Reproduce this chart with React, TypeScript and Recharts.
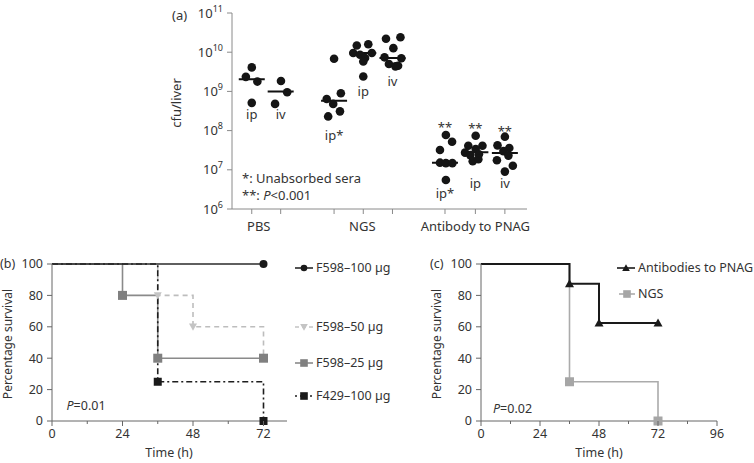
import React from 'react';
import { ScatterChart, Scatter, LineChart, Line, XAxis, YAxis } from 'recharts';

const FONT = '"Noto Sans", "Open Sans", sans-serif';

// ---------- panel (a): cfu/liver, log scale ----------
const groupX = [0.67, 1.65, 3.46, 4.45, 5.44, 7.22, 8.25, 9.25];
const groupTag = ['ip', 'iv', 'ip*', 'ip', 'iv', 'ip*', 'ip', 'iv'];
const groupTagY = [2.7e8, 2.7e8, 7.5e7, 1.0e9, 1.85e9, 2.6e6, 4.6e6, 4.5e6];
const medians = [2.05e9, 9.9e8, 5.8e8, 9.5e9, 7.1e9, 1.52e7, 2.8e7, 2.7e7];
const starGroups = [5, 6, 7];
const starY = [1.21e8, 1.16e8, 1.0e8];
const yTicksA = [1e6, 1e7, 1e8, 1e9, 1e10, 1e11];

// dot x (jittered within the group) and cfu values
const pbsIpX = [0.67, 0.47, 0.86, 0.67];
const pbsIpY = [4.1e9, 2.35e9, 1.78e9, 5.1e8];
const pbsIvX = [1.66, 1.87, 1.46];
const pbsIvY = [1.85e9, 9.5e8, 4.8e8];
const ngsIpStarX = [3.46, 3.21, 3.43, 3.69, 3.26, 3.66];
const ngsIpStarY = [6.8e9, 6.4e8, 4.8e8, 9.0e8, 2.3e8, 3.1e8];
const ngsIpX = [4.23, 4.62, 4.11, 4.34, 4.51, 4.74, 4.45, 4.45];
const ngsIpY = [1.48e10, 1.6e10, 9.5e9, 8.6e9, 7.1e9, 9.5e9, 5.8e9, 2.4e9];
const ngsIvX = [5.22, 5.71, 5.47, 5.17, 5.74, 5.32, 5.54, 5.63];
const ngsIvY = [2.2e10, 2.4e10, 1.27e10, 7.4e9, 7.0e9, 5.0e9, 4.35e9, 4.5e9];
const abIpStarX = [7.25, 7.46, 7.05, 7.05, 7.25, 7.47, 7.25];
const abIpStarY = [7.7e7, 5.2e7, 3.2e7, 1.52e7, 1.48e7, 1.48e7, 5.5e6];
const abIpX = [8.26, 8.01, 8.49, 8.26, 7.9, 8.08, 8.37, 8.16, 8.35];
const abIpY = [7.4e7, 4.1e7, 4.1e7, 3.4e7, 2.74e7, 2.37e7, 2.5e7, 1.66e7, 1.87e7];
const abIvX = [9.25, 9.0, 9.4, 9.2, 9.37, 8.98, 9.52, 9.25];
const abIvY = [7.0e7, 4.2e7, 3.6e7, 3.0e7, 2.3e7, 1.75e7, 1.27e7, 9.0e6];

const dotXs = [pbsIpX, pbsIvX, ngsIpStarX, ngsIpX, ngsIvX, abIpStarX, abIpX, abIvX];
const dotYs = [pbsIpY, pbsIvY, ngsIpStarY, ngsIpY, ngsIvY, abIpStarY, abIpY, abIvY];

const dots = dotXs.flatMap((xs, g) => xs.map((x, i) => ({ x, y: dotYs[g][i] })));
const medianData = groupX.map((x, i) => ({ x, y: medians[i] }));
const tagData = [
  ...groupX.map((x, i) => ({ x, y: groupTagY[i], t: groupTag[i] })),
  ...starGroups.map((g, i) => ({ x: groupX[g], y: starY[i], t: '**' })),
];
const categoryAt: Record<string, { text: string; dx: number }> = {
  '0.67': { text: 'PBS', dx: 7 },
  '4.45': { text: 'NGS', dx: -1 },
  '8.25': { text: 'Antibody to PNAG', dx: 0 },
};

// ---------- panel (b): survival by dose ----------
const f598_100 = [{ t: 0, s: 100 }, { t: 72, s: 100 }];
const f598_50 = [{ t: 0, s: 100 }, { t: 36, s: 80 }, { t: 48, s: 60 }, { t: 72, s: 40 }];
const f598_25 = [{ t: 0, s: 100 }, { t: 24, s: 80 }, { t: 36, s: 40 }, { t: 72, s: 40 }];
const f429_100 = [{ t: 0, s: 100 }, { t: 36, s: 25 }, { t: 72, s: 0 }];
const xTicksB = [0, 12, 24, 36, 48, 60, 72];

// ---------- panel (c): antibodies vs NGS ----------
const antiPnag = [{ t: 0, s: 100 }, { t: 36, s: 87.5 }, { t: 48, s: 62.5 }, { t: 72, s: 62.5 }];
const ngs = [{ t: 0, s: 100 }, { t: 36, s: 25 }, { t: 72, s: 0 }];
const xTicksC = [0, 12, 24, 36, 48, 60, 72, 84, 96];
const yTicksSurv = [0, 20, 40, 60, 80, 100];

type Kind = 'circle' | 'square' | 'triUp' | 'triDown';

function Mark({ kind, x, y, fill, s = 4.5 }: { kind: Kind; x: number; y: number; fill: string; s?: number }) {
  if (kind === 'circle') return <circle cx={x} cy={y} r={s - 0.5} fill={fill} />;
  if (kind === 'square') return <rect x={x - s} y={y - s} width={2 * s} height={2 * s} fill={fill} />;
  if (kind === 'triUp')
    return <polygon points={`${x},${y - s} ${x - s},${y + s * 0.8} ${x + s},${y + s * 0.8}`} fill={fill} />;
  return <polygon points={`${x - s},${y - s * 0.8} ${x + s},${y - s * 0.8} ${x},${y + s}`} fill={fill} />;
}

const markDot = (kind: Kind, fill: string, s?: number) => (p: any) => {
  if (p.index === 0 || p.cx == null) return <g key={`e-${p.index}`} />;
  return (
    <g key={`m-${p.index}`}>
      <Mark kind={kind} x={p.cx} y={p.cy} fill={fill} s={s} />
    </g>
  );
};

const PowTick = (p: any) => {
  const exp = Math.round(Math.log10(p.payload.value));
  return (
    <text x={p.x} y={p.y + 4.5} textAnchor="end" fontSize={13} fill="#333" fontFamily={FONT}>
      10<tspan dy={-6} fontSize={9}>{exp}</tspan>
    </text>
  );
};

const CatTick = (p: any) => {
  const c = categoryAt[String(p.payload.value)];
  if (!c) return <g />;
  return (
    <text x={p.x + c.dx} y={p.y + 15} textAnchor="middle" fontSize={13} fill="#333" fontFamily={FONT}>
      {c.text}
    </text>
  );
};

const TimeTick = (p: any) => {
  const v = p.payload.value;
  const major = v % 24 === 0;
  return (
    <g>
      <line x1={p.x} x2={p.x} y1={p.y} y2={p.y + (major ? 5 : 3)} stroke="#666" />
      {major && (
        <text x={p.x} y={p.y + 16.5} textAnchor="middle" fontSize={12.5} fill="#333" fontFamily={FONT}>
          {v}
        </text>
      )}
    </g>
  );
};

function Txt({
  x, y, children, size = 12.5, anchor = 'start', rotate = false,
}: { x: number; y: number; children: React.ReactNode; size?: number; anchor?: string; rotate?: boolean }) {
  const tx = anchor === 'middle' ? '-50%' : anchor === 'end' ? '-100%' : '0';
  return (
    <div
      style={{
        position: 'absolute', left: x, top: y, fontSize: size, lineHeight: 1, color: '#333',
        whiteSpace: 'nowrap', transform: `translate(${tx}, -50%)${rotate ? ' rotate(-90deg)' : ''}`,
      }}
    >
      {children}
    </div>
  );
}

function LegendItem({
  x, y, stroke, dash, kind, fill, text, w = 18,
}: { x: number; y: number; stroke: string; dash?: string; kind: Kind; fill: string; text: string; w?: number }) {
  return (
    <div style={{ position: 'absolute', left: x, top: y - 8, height: 16, display: 'flex', alignItems: 'center' }}>
      <svg width={w} height={16} style={{ display: 'block' }}>
        <line x1={0} x2={w} y1={8} y2={8} stroke={stroke} strokeWidth={1.6} strokeDasharray={dash} />
        <Mark kind={kind} x={w / 2} y={8} fill={fill} s={3.8} />
      </svg>
      <span style={{ fontSize: 12.5, color: '#333', marginLeft: 3, lineHeight: 1 }}>{text}</span>
    </div>
  );
}

export default function App() {
  const axisA = '#8a8a8a';
  const axisB = '#666';
  return (
    <div style={{ position: 'absolute', left: 0, top: 0, width: 754, height: 463, background: '#fff', fontFamily: FONT, overflow: 'hidden' }}>
      {/* (a) */}
      <div style={{ position: 'absolute', left: 0, top: 0 }}>
        <ScatterChart width={754} height={239} margin={{ top: 13, right: 227, bottom: 0, left: 172 }}>
          <XAxis
            type="number" dataKey="x" domain={[0, 10]} ticks={groupX} stroke={axisA}
            tickSize={5} height={30} tick={<CatTick />} interval={0}
          />
          <YAxis
            type="number" dataKey="y" scale="log" domain={[1e6, 1e11]} ticks={yTicksA} allowDataOverflow
            stroke={axisA} tickSize={5} tickMargin={4} width={60} tick={<PowTick />} interval={0}
          />
          <Scatter
            data={medianData} isAnimationActive={false}
            shape={(p: any) => <line x1={p.cx - 13} x2={p.cx + 13} y1={p.cy} y2={p.cy} stroke="#111" strokeWidth={2} />}
          />
          <Scatter
            data={dots} isAnimationActive={false}
            shape={(p: any) => <circle cx={p.cx} cy={p.cy} r={4.3} fill="#151515" />}
          />
          <Scatter
            data={tagData} isAnimationActive={false}
            shape={(p: any) => (
              <text x={p.cx} y={p.cy} textAnchor="middle" dominantBaseline="central" fontSize={13} fill="#333" fontFamily={FONT}>
                {p.payload?.t ?? p.t}
              </text>
            )}
          />
        </ScatterChart>
      </div>
      <Txt x={172} y={15} size={13}>(a)</Txt>
      <Txt x={176} y={103} size={13} anchor="middle" rotate>cfu/liver</Txt>
      <Txt x={242} y={178} size={13}>*: Unabsorbed sera</Txt>
      <Txt x={242} y={194.5} size={13}>**: <i>P</i>&lt;0.001</Txt>

      {/* (b) */}
      <div style={{ position: 'absolute', left: 0, top: 240 }}>
        <LineChart width={300} height={223} margin={{ top: 24, right: 13, bottom: 0, left: 0 }}>
          <XAxis
            type="number" dataKey="t" domain={[0, 80]} ticks={xTicksB} stroke={axisB}
            tickLine={false} tickSize={0} tickMargin={0} height={42} tick={<TimeTick />} interval={0} allowDuplicatedCategory={false}
          />
          <YAxis
            type="number" dataKey="s" domain={[0, 100]} ticks={yTicksSurv} stroke={axisB}
            tickSize={5} tickMargin={4} width={52} tick={{ fontSize: 12.5, fill: '#333' }} interval={0}
          />
          <Line data={f598_50} dataKey="s" type="stepAfter" stroke="#bdbdbd" strokeWidth={1.6} strokeDasharray="5 4" dot={markDot('triDown', '#c4c4c4', 4)} isAnimationActive={false} />
          <Line data={f598_25} dataKey="s" type="stepAfter" stroke="#8a8a8a" strokeWidth={1.6} dot={markDot('square', '#808080', 4.5)} isAnimationActive={false} />
          <Line data={f429_100} dataKey="s" type="stepAfter" stroke="#1e1e1e" strokeWidth={1.6} strokeDasharray="6 3 2 3" dot={markDot('square', '#1a1a1a', 4)} isAnimationActive={false} />
          <Line data={f598_100} dataKey="s" type="stepAfter" stroke="#2a2a2a" strokeWidth={1.6} dot={markDot('circle', '#1a1a1a', 4.5)} isAnimationActive={false} />
        </LineChart>
      </div>
      <Txt x={0} y={264}>(b)</Txt>
      <Txt x={7.5} y={344} size={12} anchor="middle" rotate>Percentage survival</Txt>
      <Txt x={169} y={453} anchor="middle">Time (h)</Txt>
      <Txt x={66.5} y={406}><i>P</i>=0.01</Txt>
      <LegendItem x={295} y={268} stroke="#2a2a2a" kind="circle" fill="#1a1a1a" text="F598–100 µg" />
      <LegendItem x={295} y={327} stroke="#c4c4c4" dash="4 3" kind="triDown" fill="#c4c4c4" text="F598–50 µg" />
      <LegendItem x={295} y={363} stroke="#8a8a8a" kind="square" fill="#808080" text="F598–25 µg" />
      <LegendItem x={295} y={396} stroke="#1e1e1e" dash="2 3" kind="square" fill="#1a1a1a" text="F429–100 µg" />

      {/* (c) */}
      <div style={{ position: 'absolute', left: 380, top: 240 }}>
        <LineChart width={374} height={223} margin={{ top: 24, right: 37, bottom: 0, left: 49 }}>
          <XAxis
            type="number" dataKey="t" domain={[0, 96]} ticks={xTicksC} stroke={axisB}
            tickLine={false} tickSize={0} tickMargin={0} height={42} tick={<TimeTick />} interval={0} allowDuplicatedCategory={false}
          />
          <YAxis
            type="number" dataKey="s" domain={[0, 100]} ticks={yTicksSurv} stroke={axisB}
            tickSize={5} tickMargin={4} width={52} tick={{ fontSize: 12.5, fill: '#333' }} interval={0}
          />
          <Line data={ngs} dataKey="s" type="stepAfter" stroke="#ababab" strokeWidth={1.6} dot={markDot('square', '#a6a6a6', 4.5)} isAnimationActive={false} />
          <Line data={antiPnag} dataKey="s" type="stepAfter" stroke="#1a1a1a" strokeWidth={2} dot={markDot('triUp', '#1a1a1a', 4.5)} isAnimationActive={false} />
        </LineChart>
      </div>
      <Txt x={430} y={264}>(c)</Txt>
      <Txt x={437} y={344} size={12} anchor="middle" rotate>Percentage survival</Txt>
      <Txt x={599} y={453} anchor="middle">Time (h)</Txt>
      <Txt x={493} y={408.5}><i>P</i>=0.02</Txt>
      <LegendItem x={617} y={268} stroke="#1a1a1a" kind="triUp" fill="#1a1a1a" text="Antibodies to PNAG" />
      <LegendItem x={619} y={294} stroke="#ababab" kind="square" fill="#a6a6a6" text="NGS" w={16} />
    </div>
  );
}
